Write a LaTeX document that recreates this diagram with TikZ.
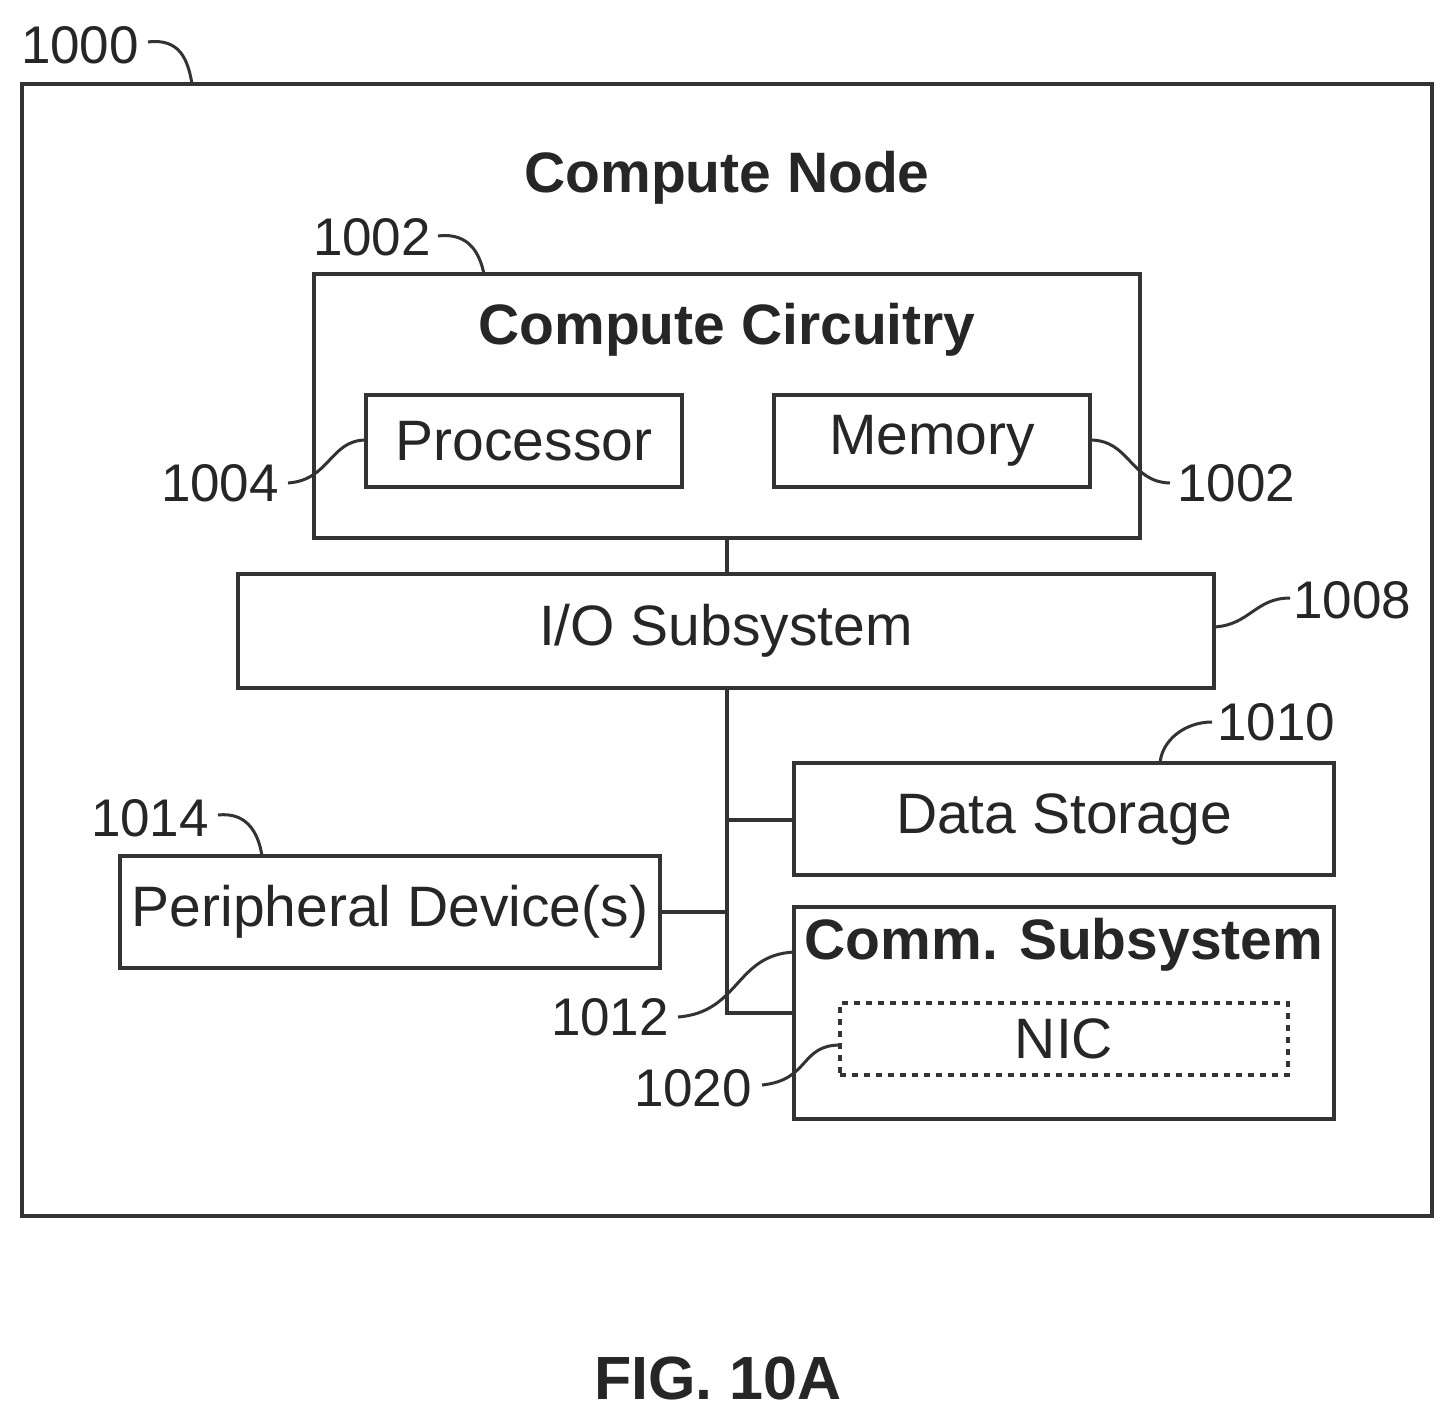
\documentclass[tikz,border=0pt]{standalone}
\usepackage{fontspec}
\setmainfont{Liberation Sans}
\begin{document}
\begin{tikzpicture}[x=0.5pt,y=-0.5pt,
  box/.style={draw=black!80,line width=2.2pt,inner sep=0pt},
  lead/.style={draw=black!80,line width=1.5pt},
  wire/.style={draw=black!80,line width=2pt},
  txt/.style={font=\fontsize{28.5}{33}\selectfont,text=black!85},
  lbl/.style={font=\fontsize{26.5}{31}\selectfont,text=black!85},
  btxt/.style={font=\bfseries\fontsize{28.5}{33}\selectfont,text=black!85}]
\useasboundingbox (0,0) rectangle (1455,1425);
\node[box,minimum width=705pt,minimum height=566pt] (outer) at (727,650) {};
\node[btxt] (t0) at (727,178) {Compute Node};
\node[box,minimum width=413pt,minimum height=132pt] (cc) at (727,406) {};
\node[btxt] (t1) at (727,330) {Compute Circuitry};
\node[box,minimum width=158pt,minimum height=46pt,txt] (proc) at (524,441) {Processor};
\node[box,minimum width=158pt,minimum height=46pt,txt] (mem) at (932,441) {\raisebox{3pt}{Memory}};
\node[box,minimum width=488pt,minimum height=57pt,txt] (io) at (726,631) {I/O Subsystem};
\node[box,minimum width=270pt,minimum height=56pt,txt] (ds) at (1064,819) {Data Storage};
\node[box,minimum width=270pt,minimum height=56pt,txt] (pd) at (390,912) {Peripheral Device(s)};
\node[box,minimum width=270pt,minimum height=106pt] (cs) at (1064,1013) {};
\node[btxt] (t2) at (1064,945) {Comm. Subsystem};
\node[box,dashed,minimum width=224pt,minimum height=36pt,txt] (nic) at (1064,1039) {NIC};
\coordinate (j0) at (727,1013);
\coordinate (j1) at (727,820);
\coordinate (j2) at (727,912);
\draw[wire] (cc.south -| j0) -- (io.north -| j0);
\draw[wire] (io.south -| j0) -- (j0) -- (j0 -| cs.west);
\draw[wire] (j1) -- (j1 -| ds.west);
\draw[wire] (pd.east) -- (j2);
\node[lbl] (l1000) at (80,45) {1000};
\node[lbl] (l1002a) at (372,237) {1002};
\node[lbl] (l1004) at (220,483) {1004};
\node[lbl] (l1002b) at (1236,483) {1002};
\node[lbl] (l1008) at (1352,600) {1008};
\node[lbl] (l1010) at (1276,722) {1010};
\node[lbl] (l1014) at (150,818) {1014};
\node[lbl] (l1012) at (610,1017) {1012};
\node[lbl] (l1020) at (693,1088) {1020};
\draw[lead] (148,42) .. controls (180,38) and (188,60) .. (192,84);
\draw[lead] (438,236) .. controls (470,232) and (480,255) .. (484,274);
\draw[lead] (288,483) .. controls (330,480) and (330,440) .. (366,440);
\draw[lead] (1090,440) .. controls (1130,440) and (1130,482) .. (1170,483);
\draw[lead] (1214,627) .. controls (1250,625) and (1255,598) .. (1290,598);
\draw[lead] (1160,763) .. controls (1162,740) and (1185,722) .. (1212,722);
\draw[lead] (218,815) .. controls (245,812) and (258,830) .. (262,856);
\draw[lead] (678,1017) .. controls (740,1012) and (735,955) .. (794,952);
\draw[lead] (762,1085) .. controls (810,1080) and (800,1045) .. (840,1045);
\node[font=\bfseries\fontsize{30.5}{36}\selectfont,text=black!85] (fig) at (718,1378) {FIG. 10A};
\end{tikzpicture}
\end{document}
